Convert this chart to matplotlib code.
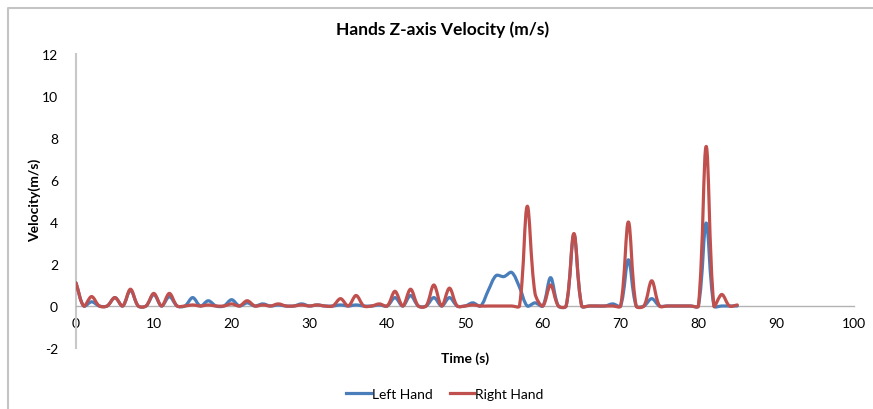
import numpy as np
import matplotlib
matplotlib.use("Agg")
import matplotlib.pyplot as plt
from matplotlib.path import Path
from matplotlib.patches import PathPatch
from matplotlib.lines import Line2D

plt.rcParams['font.family'] = ['Lato', 'DejaVu Sans']
plt.rcParams['axes.unicode_minus'] = False

time_s = list(range(0, 86))
left_hand = [1.1, 0, 0.2, 0, 0, 0.4, 0, 0.75, 0, 0,
             0.55, 0, 0.45, 0, 0, 0.4, 0, 0.25, 0, 0,
             0.3, 0, 0.15, 0, 0.1, 0, 0.05, 0, 0, 0.1,
             0, 0.05, 0, 0, 0.05, 0, 0.05, 0, 0, 0.05,
             0, 0.4, 0, 0.5, 0, 0, 0.4, 0, 0.4, 0,
             0, 0.15, 0, 0.75, 1.45, 1.4, 1.6, 0.9, 0, 0.15,
             0, 1.35, 0, 0, 3.4, 0, 0, 0, 0, 0.1,
             0, 2.2, 0, 0, 0.35, 0, 0, 0, 0, 0,
             0, 3.95, 0, 0, 0, 0]
right_hand = [1.1, 0, 0.45, 0, 0, 0.4, 0, 0.8, 0, 0,
              0.6, 0, 0.6, 0, 0, 0.05, 0, 0.05, 0, 0,
              0.1, 0, 0.25, 0, 0.05, 0, 0.1, 0, 0, 0.05,
              0, 0.05, 0, 0, 0.35, 0, 0.5, 0, 0, 0.1,
              0, 0.7, 0, 0.8, 0, 0, 1.0, 0, 0.85, 0,
              0, 0.05, 0, 0, 0, 0, 0, 0, 4.75, 0.6,
              0, 1.0, 0, 0, 3.45, 0, 0, 0, 0, 0,
              0, 4.0, 0, 0, 1.2, 0, 0, 0, 0, 0,
              0, 7.6, 0, 0.55, 0, 0.05]
series_names = ["Left Hand", "Right Hand"]
series_colors = ["#4A7EBB", "#C0504D"]
x_ticks = list(range(0, 101, 10))
y_ticks = list(range(-2, 13, 2))

W, H = 873, 410
AX_L, AX_R, AX_T, AX_B = 76, 854, 55, 349
XMIN, XMAX, YMIN, YMAX = 0, 100, -2, 12
SX = (AX_R - AX_L) / (XMAX - XMIN)
SY = (AX_B - AX_T) / (YMAX - YMIN)


def smooth_path(x, y, k=1 / 3):
    # Excel-like smoothing: tangents from neighbours, split by segment lengths (screen space)
    px = np.asarray(x, float) * SX
    py = np.asarray(y, float) * SY
    n = len(px)
    P = np.column_stack([px, py])
    cin = np.zeros_like(P)
    cout = np.zeros_like(P)
    for i in range(n):
        a = P[max(i - 1, 0)]
        b = P[min(i + 1, n - 1)]
        T = b - a
        dp = np.linalg.norm(P[i] - a)
        dn = np.linalg.norm(b - P[i])
        s = dp + dn
        if s == 0:
            cin[i] = P[i]
            cout[i] = P[i]
            continue
        cin[i] = P[i] - T * k * dp / s
        cout[i] = P[i] + T * k * dn / s
    verts = [tuple(P[0])]
    codes = [Path.MOVETO]
    for i in range(n - 1):
        verts += [tuple(cout[i]), tuple(cin[i + 1]), tuple(P[i + 1])]
        codes += [Path.CURVE4] * 3
    verts = np.array(verts)
    verts[:, 0] /= SX
    verts[:, 1] /= SY
    return Path(verts, codes)


fig = plt.figure(figsize=(W / 100, H / 100), dpi=100)
ax = fig.add_axes([AX_L / W, (H - AX_B) / H, (AX_R - AX_L) / W, (AX_B - AX_T) / H])

for data, name, col in zip([left_hand, right_hand], series_names, series_colors):
    patch = PathPatch(smooth_path(time_s, data), facecolor='none', edgecolor=col,
                      lw=2.3, capstyle='round', joinstyle='round', zorder=3)
    ax.add_patch(patch)

ax.set_xlim(XMIN, XMAX)
ax.set_ylim(YMIN, YMAX)
ax.set_xticks(x_ticks)
ax.set_yticks(y_ticks)
for s in ['top', 'right']:
    ax.spines[s].set_visible(False)
ax.spines['bottom'].set_position(('data', 0))
ax.spines['bottom'].set_color('#B3B3B3')
ax.spines['left'].set_color('#C8C8C8')
ax.spines['bottom'].set_linewidth(1.0)
ax.spines['left'].set_linewidth(1.5)
ax.tick_params(axis='both', length=0, labelsize=10, colors='black')
ax.tick_params(axis='x', pad=8)
ax.tick_params(axis='y', pad=13)

handles = [Line2D([], [], color=c, lw=2.3) for c in series_colors]
fig.legend(handles, series_names, loc='center', bbox_to_anchor=(445 / W, 1 - 395 / H),
           ncol=2, frameon=False, fontsize=10, handlelength=1.75, handletextpad=0.1,
           columnspacing=1.2)

fig.text(443 / W, 1 - 30 / H, "Hands Z-axis Velocity (m/s)", ha='center', va='center',
         fontsize=12.5, fontweight='bold')
fig.text(35 / W, 1 - 200 / H, "Velocity(m/s)", ha='center', va='center', rotation=90,
         fontsize=10, fontweight='bold')
fig.text(465 / W, 1 - 359 / H, "Time (s)", ha='center', va='center',
         fontsize=10, fontweight='bold')

fig.add_artist(Line2D([7.5 / W, 7.5 / W, 1], [0, 1 - 8.5 / H, 1 - 8.5 / H],
                      transform=fig.transFigure, color='#C4C4C4', lw=1.5))

fig.savefig("out.png", dpi=100)
